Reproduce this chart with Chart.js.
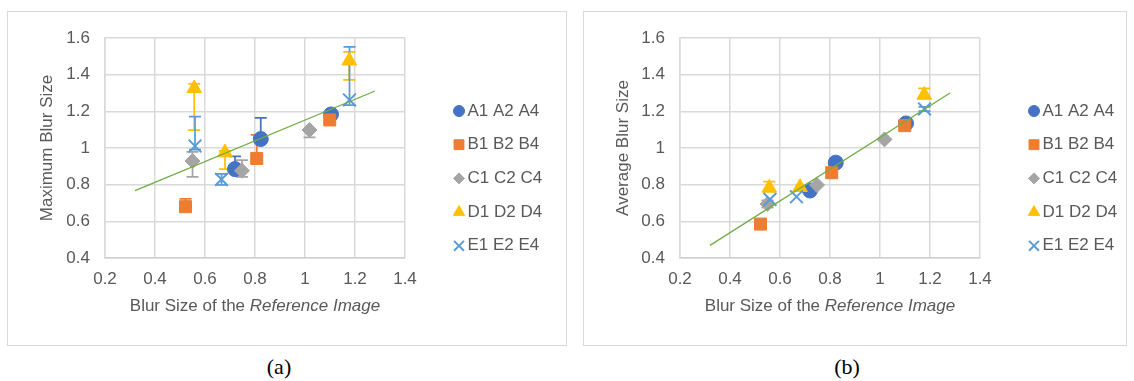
<!DOCTYPE html>
<html>
<head>
<meta charset="utf-8">
<script src="https://cdn.jsdelivr.net/npm/chart.js@4.4.1/dist/chart.umd.min.js"></script>
<style>
  body { margin: 0; width: 1134px; height: 381px; background: #fff; position: relative; overflow: hidden; }
  .panel { position: absolute; top: 11px; height: 335px; }
  .panel canvas { position: absolute; left: 0; top: 0; }
  .frame { position: absolute; left: 0; top: 0; right: 0; bottom: 0; border: 1px solid #d9d9d9; box-sizing: border-box; pointer-events: none; }
  .cap { position: absolute; top: 354px; line-height: 25px; font: 22px "Liberation Serif", "Times New Roman", serif; color: #000; transform: translateX(-50%); }
</style>
</head>
<body>
<div class="panel" style="left:7px;width:560px"><canvas id="maxChart" width="560" height="335"></canvas><div class="frame"></div></div>
<div class="panel" style="left:583px;width:544px"><canvas id="avgChart" width="544" height="335"></canvas><div class="frame"></div></div>
<div class="cap" style="left:279px">(a)</div>
<div class="cap" style="left:847px">(b)</div>

<script>
// series labels
const seriesNames = ['A1 A2 A4', 'B1 B2 B4', 'C1 C2 C4', 'D1 D2 D4', 'E1 E2 E4']

// blur size of the reference image (x), one row per series
const refBlur = [
    [0.72, 0.823, 1.104],
    [0.522, 0.807, 1.099],
    [0.55, 0.748, 1.018],
    [0.557, 0.68, 1.177],
    [0.56, 0.666, 1.178]
]

// maximum blur size + error bar lengths
const maxBlur = [
    [0.885, 1.049, 1.183],
    [0.68, 0.943, 1.153],
    [0.929, 0.876, 1.098],
    [1.325, 0.975, 1.476],
    [1.011, 0.829, 1.262]
]
const maxPlus = [
    [0.07, 0.115, 0],
    [0.042, 0.128, 0],
    [0.05, 0.058, 0],
    [0.025, 0.01, 0.049],
    [0.16, 0.03, 0.29]
]
const maxMinus = [
    [0, 0, 0],
    [0, 0, 0],
    [0.086, 0.033, 0.04],
    [0.227, 0.09, 0.105],
    [0.02, 0.03, 0.028]
]

// average blur size + error bar lengths
const avgBlur = [
    [0.768, 0.92, 1.134],
    [0.585, 0.865, 1.122],
    [0.695, 0.798, 1.047],
    [0.782, 0.786, 1.289],
    [0.72, 0.734, 1.213]
]
const avgPlus = [
    [0, 0, 0],
    [0, 0, 0],
    [0.02, 0, 0],
    [0.035, 0, 0.036],
    [0, 0, 0.012]
]
const avgMinus = [
    [0, 0, 0],
    [0, 0, 0],
    [0.02, 0, 0],
    [0, 0, 0],
    [0, 0, 0.012]
]

// linear trend lines (end points)
const trendX = [0.32, 1.28]
const maxTrendY = [0.767, 1.311]
const avgTrendY = [0.469, 1.3]

// axis ticks
const xTicks = [0.2, 0.4, 0.6, 0.8, 1, 1.2, 1.4]
const yTicks = [0.4, 0.6, 0.8, 1, 1.2, 1.4, 1.6]

// look
const colors = ['#4472C4', '#ED7D31', '#A5A5A5', '#FFC000', '#5B9BD5']
const styles = ['circle', 'rect', 'rectRot', 'triangle', 'crossRot']
const radius = [7.5, 8.5, 7.5, 8.5, 9]
const legendRadius = [5.5, 7, 5.5, 6.5, 7]
const textColor = '#595959'
const fontFamily = '"Liberation Sans", Arial, sans-serif'

Chart.defaults.font.family = fontFamily
Chart.defaults.font.size = 17
Chart.defaults.color = textColor

// vertical error bars with caps, drawn under the markers
const errorBars = {
    id: 'errorBars',
    beforeDatasetsDraw(chart) {
        const { ctx, scales: { x, y } } = chart
        ctx.save()
        ctx.lineWidth = 1.75
        chart.data.datasets.forEach(ds => {
            if (!ds.plus) return
            ctx.strokeStyle = ds.borderColor
            ds.data.forEach((p, j) => {
                const up = ds.plus[j], down = ds.minus[j]
                if (!up && !down) return
                const px = x.getPixelForValue(p.x)
                const top = y.getPixelForValue(p.y + up)
                const bot = y.getPixelForValue(p.y - down)
                ctx.beginPath()
                ctx.moveTo(px, top)
                ctx.lineTo(px, bot)
                if (up) { ctx.moveTo(px - 6, top); ctx.lineTo(px + 6, top) }
                if (down) { ctx.moveTo(px - 6, bot); ctx.lineTo(px + 6, bot) }
                ctx.stroke()
            })
        })
        ctx.restore()
    }
}

// legend on the right side of the plot
const sideLegend = {
    id: 'sideLegend',
    afterDraw(chart) {
        const { ctx, chartArea } = chart
        const x0 = chartArea.right + 54
        ctx.save()
        ctx.font = '17px ' + fontFamily
        ctx.textBaseline = 'middle'
        ctx.textAlign = 'left'
        seriesNames.forEach((name, i) => {
            const y0 = 100 + i * 33.7
            ctx.fillStyle = colors[i]
            ctx.strokeStyle = colors[i]
            ctx.lineWidth = i == 4 ? 2 : 1
            Chart.helpers.drawPoint(ctx, {
                pointStyle: styles[i],
                radius: legendRadius[i],
                rotation: 0,
                borderWidth: ctx.lineWidth
            }, x0, y0)
            ctx.fillStyle = textColor
            ctx.fillText(name, x0 + 8.5, y0)
        })
        ctx.restore()
    }
}

// x axis title, second half in italics
const xTitle = {
    id: 'xTitle',
    afterDraw(chart) {
        const { ctx, scales: { x } } = chart
        const plain = 'Blur Size of the ', slanted = 'Reference Image'
        ctx.save()
        ctx.fillStyle = textColor
        ctx.textBaseline = 'middle'
        ctx.textAlign = 'left'
        ctx.font = '17px ' + fontFamily
        const w1 = ctx.measureText(plain).width
        ctx.font = 'italic 17px ' + fontFamily
        const w2 = ctx.measureText(slanted).width
        const start = (x.left + x.right) / 2 - (w1 + w2) / 2
        ctx.font = '17px ' + fontFamily
        ctx.fillText(plain, start, 295)
        ctx.font = 'italic 17px ' + fontFamily
        ctx.fillText(slanted, start + w1, 295)
        ctx.restore()
    }
}

const fmt = v => String(+(+v).toFixed(1))

function buildChart(id, yLabel, values, plus, minus, trendY, yWidth, padRight) {
    const datasets = seriesNames.map((name, i) => ({
        label: name,
        data: refBlur[i].map((x, j) => ({ x: x, y: values[i][j] })),
        pointStyle: styles[i],
        pointRadius: radius[i],
        backgroundColor: colors[i],
        borderColor: colors[i],
        borderWidth: i == 4 ? 2 : 1,
        plus: plus[i],
        minus: minus[i],
        order: 5 - i
    }))
    datasets.push({
        label: 'trend',
        data: trendX.map((x, j) => ({ x: x, y: trendY[j] })),
        showLine: true,
        pointRadius: 0,
        borderColor: '#70AD47',
        borderWidth: 1.3,
        order: 0
    })

    return new Chart(document.getElementById(id), {
        type: 'scatter',
        data: { datasets: datasets },
        options: {
            responsive: false,
            animation: false,
            events: [],
            layout: { padding: { left: 0, top: 27, right: padRight, bottom: 0 } },
            plugins: { legend: { display: false }, tooltip: { enabled: false } },
            scales: {
                x: {
                    min: xTicks[0],
                    max: xTicks[xTicks.length - 1],
                    ticks: { stepSize: 0.2, padding: 11, callback: fmt },
                    grid: { color: '#d9d9d9', lineWidth: 1.5, drawTicks: false },
                    border: { color: '#d0d0d0', width: 1.5 },
                    afterFit(s) { s.height = 88 }
                },
                y: {
                    min: yTicks[0],
                    max: yTicks[yTicks.length - 1],
                    ticks: { stepSize: 0.2, padding: 15, callback: fmt },
                    grid: { color: '#d9d9d9', lineWidth: 1.5, drawTicks: false },
                    border: { color: '#d9d9d9', width: 1.5 },
                    title: { display: true, text: yLabel, padding: { top: 30, bottom: 0 } },
                    afterFit(s) { s.width = yWidth }
                }
            }
        },
        plugins: [errorBars, sideLegend, xTitle]
    })
}

buildChart('maxChart', 'Maximum Blur Size', maxBlur, maxPlus, maxMinus, maxTrendY, 98, 162)
buildChart('avgChart', 'Average Blur Size', avgBlur, avgPlus, avgMinus, avgTrendY, 97, 147)
</script>
</body>
</html>
